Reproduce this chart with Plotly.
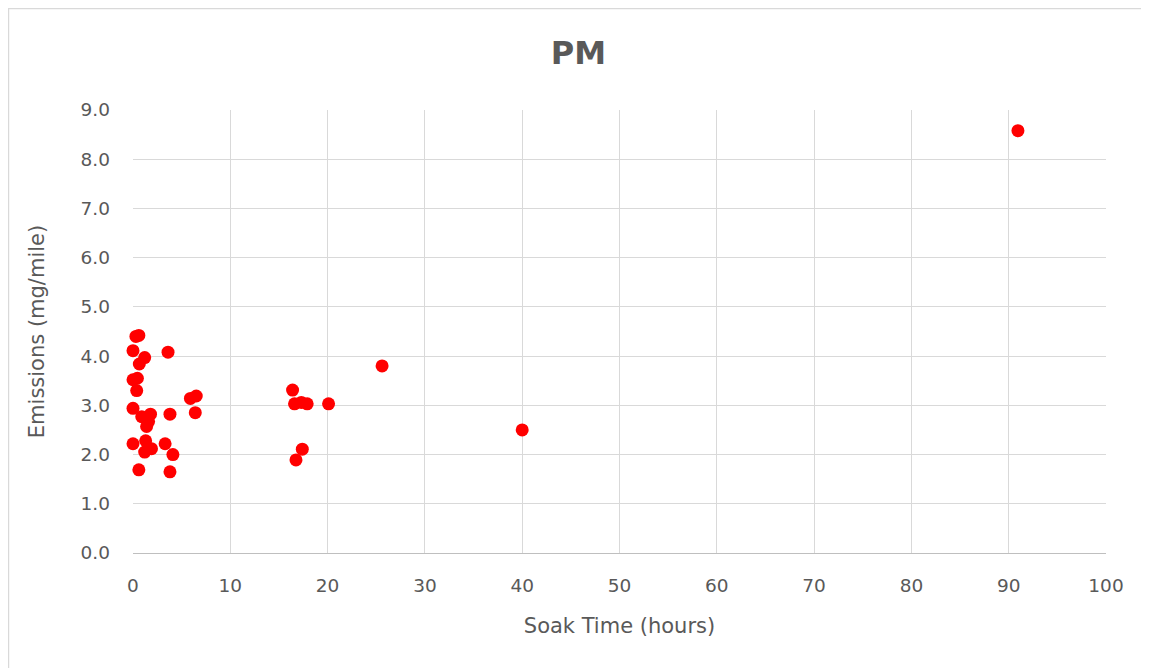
import plotly.graph_objects as go

soak_hours = [0.3, 0.6, 0.0, 3.6, 1.2, 0.65, 0.0, 0.45, 0.38, 0.0, 5.9, 6.5, 6.4, 3.8, 0.9, 1.8,
              1.4, 1.6, 0.0, 1.3, 3.3, 1.9, 1.2, 4.1, 0.6, 3.8,
              16.4, 16.6, 17.3, 17.9, 20.1, 17.4, 16.75, 25.6, 40.0, 90.95]
emissions = [4.40, 4.42, 4.11, 4.08, 3.97, 3.84, 3.52, 3.55, 3.30, 2.94, 3.14, 3.19, 2.85, 2.82, 2.77, 2.82,
             2.57, 2.67, 2.22, 2.28, 2.22, 2.12, 2.05, 2.00, 1.69, 1.65,
             3.31, 3.03, 3.06, 3.03, 3.03, 2.11, 1.89, 3.80, 2.50, 8.58]

x_ticks = list(range(0, 101, 10))
y_ticks = [i * 1.0 for i in range(0, 10)]
y_tick_text = [f"{v:.1f}" for v in y_ticks]

font_family = "DejaVu Sans, Verdana, sans-serif"
gray = "#595959"

fig = go.Figure(go.Scatter(
    x=soak_hours, y=emissions, mode="markers", cliponaxis=False,
    marker=dict(color="#ff0000", size=13, line=dict(width=0)),
))

fig.update_layout(
    width=1141, height=660,
    paper_bgcolor="white", plot_bgcolor="white",
    margin=dict(l=125, r=43, t=102, b=115),
    showlegend=False,
    title=dict(text="<b>PM</b>", x=0.5, xanchor="center", y=0.932, yanchor="middle",
               font=dict(family=font_family, size=32, color=gray)),
    font=dict(family=font_family, color=gray),
    shapes=[dict(type="rect", xref="paper", yref="paper", x0=-0.128, x1=1.048, y0=-0.282, y1=1.229,
                 line=dict(color="#d9d9d9", width=1.5), fillcolor="rgba(0,0,0,0)", layer="below")],
)

fig.update_xaxes(
    range=[0, 100], tickvals=x_ticks, ticktext=[str(v) for v in x_ticks],
    showgrid=True, gridcolor="#d9d9d9", gridwidth=1,
    zeroline=False, showline=True, linecolor="#bfbfbf", linewidth=1,
    ticks="", ticklabelstandoff=16,
    tickfont=dict(size=18.5, color=gray),
    title=dict(text="Soak Time (hours)", font=dict(size=21, color=gray), standoff=23),
)
fig.update_yaxes(
    range=[0, 9], tickvals=y_ticks, ticktext=y_tick_text,
    showgrid=True, gridcolor="#d9d9d9", gridwidth=1,
    zeroline=False, showline=False,
    ticks="", ticklabelstandoff=22,
    tickfont=dict(size=18.5, color=gray),
    title=dict(text="Emissions (mg/mile)", font=dict(size=21, color=gray), standoff=30),
)

fig.write_html("out.html")
